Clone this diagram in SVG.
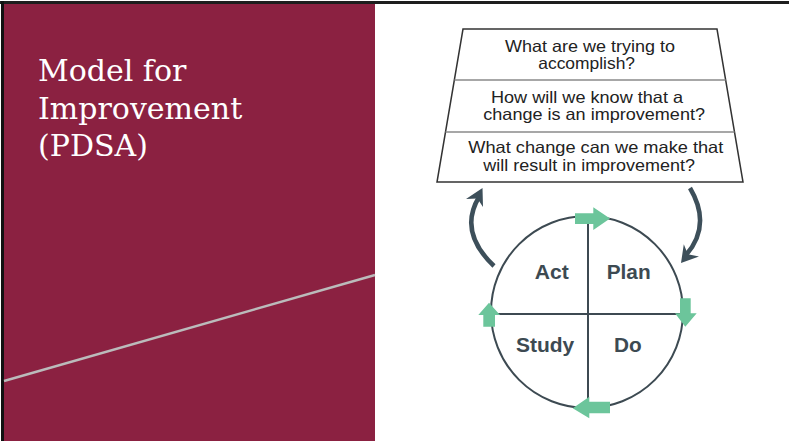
<svg xmlns="http://www.w3.org/2000/svg" width="789" height="441" viewBox="0 0 789 441">
<style>
.title{font-family:"DejaVu Serif","Liberation Serif",serif;font-size:30px;fill:#ffffff}
.q{font-family:"Liberation Sans",Arial,sans-serif;font-size:16.5px;fill:#222222}
.lbl{font-family:"Liberation Sans",Arial,sans-serif;font-size:20px;font-weight:bold;fill:#3d4a52}
.green{fill:#6cc59b}
.dark{fill:#3d4f5a}
</style>
<rect x="0" y="0" width="789" height="441" fill="#ffffff"/>
<g id="left-panel">
<rect x="4" y="3" width="371" height="438" fill="#8b2141"/>
<rect x="0" y="1" width="789" height="3" fill="#1e1e1e"/>
<rect x="1" y="1" width="3" height="440" fill="#111111"/>
<line x1="4" y1="381" x2="375" y2="275" stroke="#bbbbbb" stroke-width="2.5"/>
<text class="title" x="38" y="81">Model for</text>
<text class="title" x="38" y="119">Improvement</text>
<text class="title" x="38" y="156">(PDSA)</text>
</g>
<g id="questions">
<polygon points="463,29 717,29 743,182 437,182" fill="#ffffff" stroke="#333333" stroke-width="1.5"/>
<line x1="454.4" y1="80" x2="725.7" y2="80" stroke="#8a8a8a" stroke-width="1.5"/>
<line x1="445.5" y1="132" x2="734.5" y2="132" stroke="#8a8a8a" stroke-width="1.5"/>
<text class="q" x="505" y="51.7" textLength="170" lengthAdjust="spacingAndGlyphs">What are we trying to</text>
<text class="q" x="538.3" y="69.3" textLength="96.7" lengthAdjust="spacingAndGlyphs">accomplish?</text>
<text class="q" x="491" y="102.7" textLength="192" lengthAdjust="spacingAndGlyphs">How will we know that a</text>
<text class="q" x="483.3" y="120" textLength="221.7" lengthAdjust="spacingAndGlyphs">change is an improvement?</text>
<text class="q" x="468.3" y="153.3" textLength="255" lengthAdjust="spacingAndGlyphs">What change can we make that</text>
<text class="q" x="483.3" y="170.7" textLength="211.7" lengthAdjust="spacingAndGlyphs">will result in improvement?</text>
</g>
<g id="cycle">
<circle cx="587" cy="312" r="96" fill="none" stroke="#3d4a52" stroke-width="2"/>
<line x1="588" y1="216" x2="588" y2="408" stroke="#3d4a52" stroke-width="2"/>
<line x1="491" y1="314" x2="683" y2="314" stroke="#3d4a52" stroke-width="2"/>
</g>
<g id="act"><text class="lbl" x="534.7" y="279.3" textLength="34" lengthAdjust="spacingAndGlyphs">Act</text></g>
<g id="plan"><text class="lbl" x="606.7" y="279.3" textLength="44" lengthAdjust="spacingAndGlyphs">Plan</text></g>
<g id="study"><text class="lbl" x="516" y="351.7" textLength="58.3" lengthAdjust="spacingAndGlyphs">Study</text></g>
<g id="do"><text class="lbl" x="614" y="351.7" textLength="27.7" lengthAdjust="spacingAndGlyphs">Do</text></g>
<g id="connectors">
<polygon class="green" points="575,213.3 593.3,213.3 593.3,207.3 610,218.5 593.3,230 593.3,224 575,224"/>
<polygon class="green" points="680,298.3 690.7,298.3 690.7,313.3 696.7,313.3 685.3,326.7 675,313.3 680,313.3"/>
<polygon class="green" points="610,401.7 589.3,401.7 589.3,396.7 572.7,408.3 589.3,418.3 589.3,413.3 610,413.3"/>
<polygon class="green" points="483.3,326.7 483.3,315 478.3,315 489,302.7 500,315 495,315 495,326.7"/>
<path d="M494,266 Q458,232 479,197" fill="none" stroke="#3d4f5a" stroke-width="4.5"/>
<polygon class="dark" points="482.5,188 483,207 477.4,198.6 466,199"/>
<path d="M690,188 Q712,225 686,255" fill="none" stroke="#3d4f5a" stroke-width="4.5"/>
<polygon class="dark" points="681,263 683.8,244.3 687.9,254.3 699,256.5"/>
</g>
</svg>
